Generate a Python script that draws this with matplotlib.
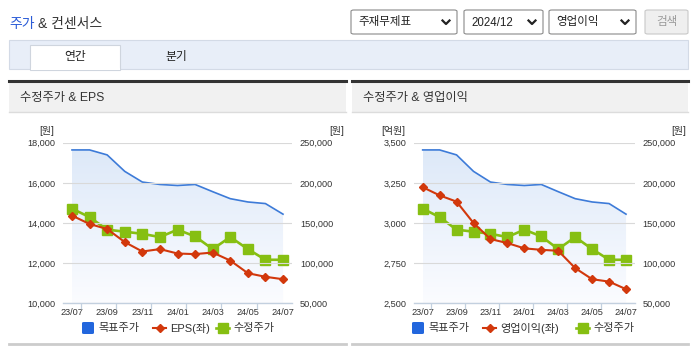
import matplotlib
matplotlib.use('Agg')
import matplotlib.pyplot as plt
import numpy as np
from matplotlib.patches import Rectangle, FancyBboxPatch
from matplotlib.lines import Line2D
from matplotlib.colors import LinearSegmentedColormap

plt.rcParams['font.family'] = ['Liberation Sans', 'Noto Sans CJK KR', 'DejaVu Sans']

# ---------------- data ----------------
months = ['23/07', '23/08', '23/09', '23/10', '23/11', '23/12', '24/01',
          '24/02', '24/03', '24/04', '24/05', '24/06', '24/07']
target_price = [241000, 241000, 234800, 214300, 201000, 198000, 196700,
                198000, 189000, 180300, 176200, 174200, 161000]
adj_price = [167900, 157300, 141700, 139200, 136500, 132500, 141700,
             133300, 117500, 132500, 117500, 104200, 104200]
eps = [14370, 13950, 13700, 13050, 12580, 12700, 12480, 12450, 12530,
       12130, 11500, 11320, 11200]
op_profit = [3223, 3172, 3133, 3000, 2900, 2875, 2842, 2833, 2827,
             2719, 2650, 2635, 2588]

eps_ticks = [10000, 12000, 14000, 16000, 18000]
op_ticks = [2500, 2750, 3000, 3250, 3500]
price_ticks = [50000, 100000, 150000, 200000, 250000]

W, H = 695, 349
fig = plt.figure(figsize=(W / 100, H / 100), dpi=100)


def fx(x):
    return x / W


def fy(y):
    return 1 - y / H


def rect(x0, y0, x1, y1, fc, ec='none', lw=0, z=0, **kw):
    r = Rectangle((fx(x0), fy(y1)), fx(x1) - fx(x0), fy(y0) - fy(y1),
                  transform=fig.transFigure, facecolor=fc, edgecolor=ec,
                  linewidth=lw, zorder=z, **kw)
    fig.add_artist(r)
    return r


def line(xs, ys, color, lw, z=2, **kw):
    fig.add_artist(Line2D([fx(v) for v in xs], [fy(v) for v in ys],
                          transform=fig.transFigure, color=color,
                          linewidth=lw, zorder=z, **kw))


def text(x, y, s, size=8.5, color='#333333', ha='left', va='center', **kw):
    fig.text(fx(x), fy(y), s, fontsize=size, color=color, ha=ha, va=va, **kw)


# ---------------- header ----------------
text(9, 24, '주가', size=10, color='#2a5bd7')
text(38, 24, '& 컨센서스', size=10, color='#333333')

boxes = [(351, 457, '주재무제표'), (464, 543, '2024/12'), (549, 636, '영업이익')]
for x0, x1, s in boxes:
    b = FancyBboxPatch((fx(x0), fy(34)), fx(x1) - fx(x0), fy(10) - fy(34),
                       boxstyle='round,pad=0,rounding_size=0.004',
                       transform=fig.transFigure, facecolor='white',
                       edgecolor='#8a8a8a', linewidth=0.8, zorder=2)
    fig.add_artist(b)
    text(x0 + 7, 22.5, s, size=8.3, color='#222222')
    cx = x1 - 11
    line([cx - 3.5, cx, cx + 3.5], [20.5, 24, 20.5], '#222222', 1.6, z=3)

b = FancyBboxPatch((fx(645), fy(34)), fx(688) - fx(645), fy(10) - fy(34),
                   boxstyle='round,pad=0,rounding_size=0.004',
                   transform=fig.transFigure, facecolor='#efefef',
                   edgecolor='#c8c8c8', linewidth=0.8, zorder=2)
fig.add_artist(b)
text(666.5, 22.5, '검색', size=8.3, color='#9a9a9a', ha='center')

# tab bar
rect(9, 40, 688, 69, '#e8eef8', ec='#d3dae6', lw=0.8, z=1)
rect(30, 45, 120, 69.5, 'white', ec='#cfd5de', lw=0.8, z=2)
rect(30.5, 68, 119.5, 70, 'white', z=3)
text(75, 57, '연간', size=8.5, color='#222222', ha='center')
text(176, 57, '분기', size=8.5, color='#222222', ha='center')


# ---------------- panels ----------------
def panel(px0, px1, title, ax_left, ax_right, left_vals, left_ticks,
          left_unit, left_fmt, left_name, legend_x):
    # panel header
    rect(px0, 82, px1, 112, '#f1f1f1', z=1)
    line([px0, px1], [81, 81], '#333333', 2.2, z=2)
    line([px0, px1], [112.3, 112.3], '#dcdcdc', 1.0, z=2)
    line([px0, px1], [344, 344], '#cccccc', 2.0, z=2)
    text(px0 + 11, 98, title, size=8.8, color='#333333')

    ax_top, ax_bot = 142.7, 303.3
    ax = fig.add_axes([fx(ax_left), fy(ax_bot), fx(ax_right) - fx(ax_left),
                       fy(ax_top) - fy(ax_bot)])
    ax2 = ax.twinx()
    ax.set_zorder(ax2.get_zorder() + 1)
    ax.patch.set_visible(False)

    x = np.arange(len(months))
    lo, hi = price_ticks[0], price_ticks[-1]

    # target price with gradient area
    poly = ax2.fill_between(x, target_price, lo, facecolor='none',
                            edgecolor='none')
    grad = np.linspace(0, 1, 256).reshape(-1, 1)
    cmap = LinearSegmentedColormap.from_list('g', ['#fbfcff', '#dce8f8'])
    im = ax2.imshow(grad, extent=[x[0], x[-1], lo, hi], origin='lower',
                    aspect='auto', cmap=cmap, zorder=0)
    im.set_clip_path(poly.get_paths()[0], transform=ax2.transData)
    ax2.plot(x, target_price, color='#3d7bd8', lw=1.2, zorder=2,
             solid_joinstyle='round')
    ax2.plot(x, adj_price, color='#86bf12', lw=1.9, marker='s', ms=6.5,
             zorder=3)
    ax.plot(x, left_vals, color='#d2380c', lw=1.5, marker='D', ms=4.2,
            zorder=4)

    for a in (ax, ax2):
        a.set_xlim(-0.5, len(months) - 0.5)
        for s in ('top', 'left', 'right', 'bottom'):
            a.spines[s].set_visible(False)
    ax.spines['bottom'].set_visible(True)
    ax.spines['bottom'].set_color('#c3d0df')
    ax.spines['bottom'].set_linewidth(1.0)

    ax.set_ylim(left_ticks[0], left_ticks[-1])
    ax.set_yticks(left_ticks)
    ax.set_yticklabels([left_fmt(v) for v in left_ticks])
    ax.tick_params(axis='y', length=0, pad=5.8, labelsize=6.6,
                   labelcolor='#333333')
    ax.grid(axis='y', color='#d9d9d9', lw=0.8)
    ax.set_axisbelow(True)

    ax2.set_ylim(lo, hi)
    ax2.set_yticks(price_ticks)
    ax2.set_yticklabels([f'{v:,}' for v in price_ticks])
    ax2.tick_params(axis='y', length=0, pad=5.8, labelsize=6.6,
                    labelcolor='#333333')

    ax.set_xticks(x[::2])
    ax.set_xticklabels(months[::2])
    ax.set_xticks(np.arange(0.5, len(months) - 1, 2), minor=True)
    ax.tick_params(axis='x', which='major', length=0, pad=3.5,
                   labelsize=6.6, labelcolor='#333333')
    ax.tick_params(axis='x', which='minor', length=4, width=0.9,
                   color='#c3d0df')
    ax2.tick_params(axis='x', which='both', bottom=False, labelbottom=False)

    # units
    text(ax_left - 9, 131.5, left_unit, size=7.2, color='#333333', ha='right')
    text(ax_right + 52, 131.5, '[원]', size=7.2, color='#333333', ha='right')

    # legend
    lx = legend_x
    yl = 328
    lfs = 8.0
    r = FancyBboxPatch((fx(lx[0]), fy(yl + 6)), fx(12), fy(0) - fy(12),
                       boxstyle='round,pad=0,rounding_size=0.003',
                       transform=fig.transFigure, facecolor='#2266dd',
                       edgecolor='none', zorder=3)
    fig.add_artist(r)
    text(lx[0] + 16, yl, '목표주가', size=lfs, color='#333333')
    line([lx[1], lx[1] + 13], [yl, yl], '#d2380c', 1.5, z=3)
    line([lx[1] + 6.5], [yl], '#d2380c', 0, z=4, marker='D', ms=4.2)
    text(lx[1] + 17, yl, left_name, size=lfs, color='#333333')
    line([lx[2], lx[2] + 13], [yl, yl], '#86bf12', 1.9, z=3)
    line([lx[2] + 6.5], [yl], '#86bf12', 0, z=4, marker='s', ms=6.5)
    text(lx[2] + 17, yl, '수정주가', size=lfs, color='#333333')
    return ax, ax2


panel(9, 346, '수정주가 & EPS', 63.2, 291.8, eps, eps_ticks, '[원]',
      lambda v: f'{v:,}', 'EPS(좌)', (82, 153, 216))
panel(352, 688, '수정주가 & 영업이익', 414.2, 634.5, op_profit, op_ticks, '[억원]',
      lambda v: f'{v:,}', '영업이익(좌)', (412, 483, 576))

fig.savefig('out.png', dpi=100, facecolor='white')
